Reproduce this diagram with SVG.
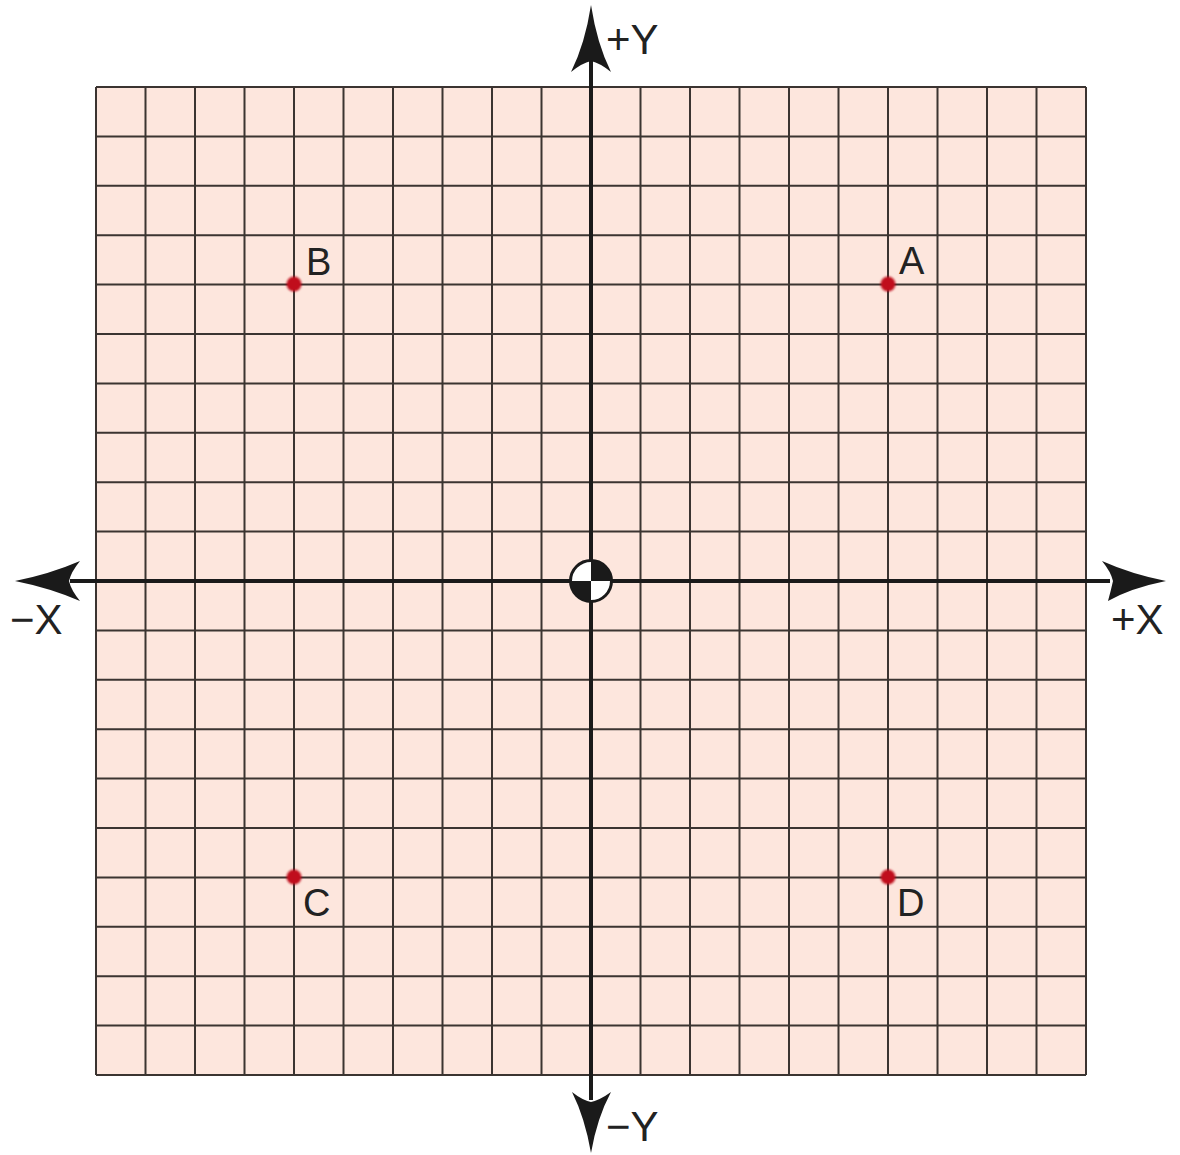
<svg xmlns="http://www.w3.org/2000/svg" width="1180" height="1155" viewBox="0 0 1180 1155">
<style>
.grid{stroke:#3b3431;stroke-width:2;fill:none}
.axis{stroke:#1a1a1a;stroke-width:4;fill:none}
.head{fill:#1a1a1a}
.lbl{font-family:"Liberation Sans",Arial,sans-serif;font-size:42px;fill:#222}
.plbl{font-family:"Liberation Sans",Arial,sans-serif;font-size:38px;fill:#222}
.pt{fill:#c0101c}
</style>
<defs>
<filter id="soft" x="-50%" y="-50%" width="200%" height="200%"><feGaussianBlur stdDeviation="0.8"/></filter>
</defs>
<rect width="1180" height="1155" fill="#ffffff"/>
<g id="grid">
<rect x="96" y="87" width="990" height="988" fill="#fde6dd"/>
<path class="grid" d="M96,87V1075M145.5,87V1075M195,87V1075M244.5,87V1075M294,87V1075M343.5,87V1075M393,87V1075M442.5,87V1075M492,87V1075M541.5,87V1075M640.5,87V1075M690,87V1075M739.5,87V1075M789,87V1075M838.5,87V1075M888,87V1075M937.5,87V1075M987,87V1075M1036.5,87V1075M1086,87V1075"/>
<path class="grid" d="M96,87H1086M96,136.4H1086M96,185.8H1086M96,235.2H1086M96,284.6H1086M96,334H1086M96,383.4H1086M96,432.8H1086M96,482.2H1086M96,531.6H1086M96,630.4H1086M96,679.8H1086M96,729.2H1086M96,778.6H1086M96,828H1086M96,877.4H1086M96,926.8H1086M96,976.2H1086M96,1025.6H1086M96,1075H1086"/>
</g>
<g id="connectors">
<path class="axis" d="M591,60V1100"/>
<path class="axis" d="M70,581H1110"/>
<path class="head" d="M591,5Q585,44 571,72Q582,63 591,61Q600,63 611,72Q597,44 591,5Z"/>
<path class="head" d="M591,1153Q585,1118 572,1092Q582,1100 591,1102Q600,1100 611,1092Q597,1118 591,1153Z"/>
<path class="head" d="M15,581Q50,574 80,561Q71,572 69,581Q71,590 80,601Q50,588 15,581Z"/>
<path class="head" d="M1166,581Q1131,574 1102,561Q1111,572 1113,581Q1111,590 1108,601Q1131,588 1166,581Z"/>
</g>
<g id="label-plus-y"><text class="lbl" x="606" y="54">+Y</text></g>
<g id="label-minus-y"><text class="lbl" x="606" y="1141">−Y</text></g>
<g id="label-minus-x"><text class="lbl" x="10" y="634">−X</text></g>
<g id="label-plus-x"><text class="lbl" x="1111" y="634">+X</text></g>
<g id="origin">
<circle cx="591" cy="581" r="20.5" fill="#ffffff" stroke="#1a1a1a" stroke-width="3"/>
<path d="M591,581V560.5A20.5,20.5 0 0 1 611.5,581Z" fill="#1a1a1a"/>
<path d="M591,581V601.5A20.5,20.5 0 0 1 570.5,581Z" fill="#1a1a1a"/>
</g>
<g id="point-a"><circle class="pt" cx="888" cy="284" r="7.5" filter="url(#soft)"/><text class="plbl" x="899" y="274">A</text></g>
<g id="point-b"><circle class="pt" cx="294" cy="284" r="7.5" filter="url(#soft)"/><text class="plbl" x="306" y="275">B</text></g>
<g id="point-c"><circle class="pt" cx="294" cy="877" r="7.5" filter="url(#soft)"/><text class="plbl" x="303" y="916">C</text></g>
<g id="point-d"><circle class="pt" cx="888" cy="877" r="7.5" filter="url(#soft)"/><text class="plbl" x="897" y="916">D</text></g>
</svg>
